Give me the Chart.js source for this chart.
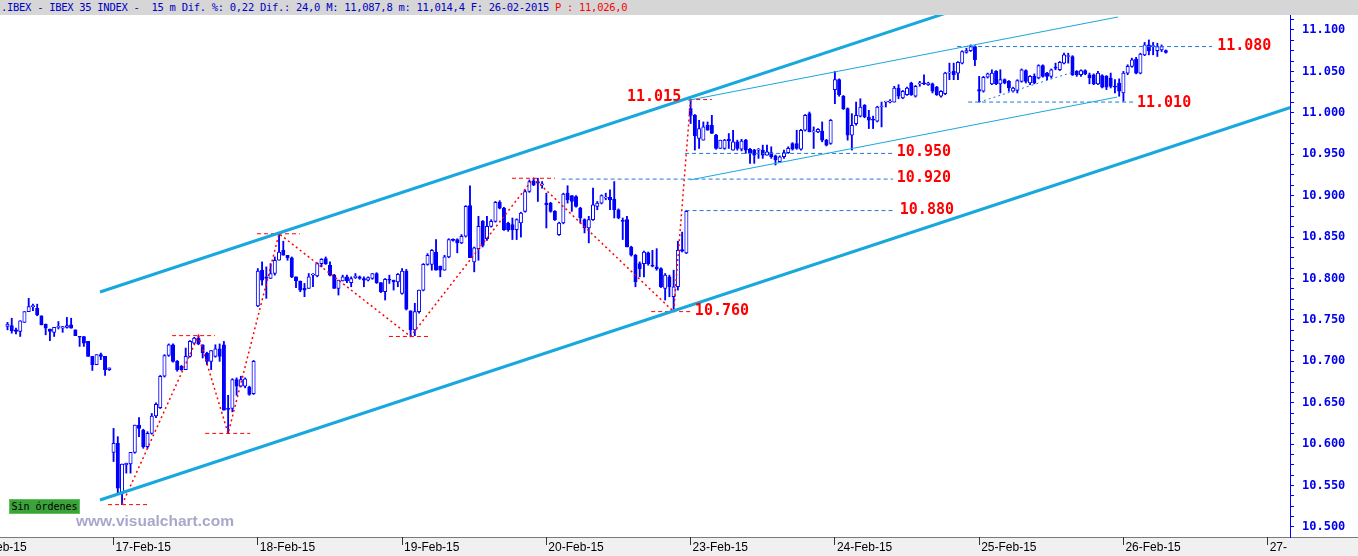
<!DOCTYPE html>
<html>
<head>
<meta charset="utf-8">
<title>IBEX 35 - 15 m</title>
<script src="https://cdn.jsdelivr.net/npm/chart.js@4.4.1/dist/chart.umd.min.js"></script>
<style>
  html,body{margin:0;padding:0;background:#fff;}
  #wrap{position:relative;width:1358px;height:556px;overflow:hidden;}
  #chart{position:absolute;left:0;top:0;}
  #hdr{position:absolute;left:0;top:0;width:1358px;height:15px;background:#d6d6d6;font:10.5px 'DejaVu Sans Mono',monospace;letter-spacing:-0.3px;line-height:15px;color:#0000c8;white-space:pre;padding-left:1px;box-sizing:border-box;}
  #hdr .p{color:#ff0000;}
  #sin{position:absolute;left:9px;top:499px;width:71px;height:15px;background:#3ca33a;border:1px solid #5cc25a;box-sizing:border-box;font:10px 'DejaVu Sans Mono',monospace;line-height:13px;text-align:center;color:#000;}
  #wm{position:absolute;left:76px;top:513px;font:bold 15.5px 'Liberation Sans',Arial,sans-serif;line-height:16px;color:#a8a8cc;}
</style>
</head>
<body>
<div id="wrap">
  <canvas id="chart" width="1358" height="556"></canvas>
  <div id="hdr">.IBEX - IBEX 35 INDEX -  15 m Dif. %: 0,22 Dif.: 24,0 M: 11,087,8 m: 11,014,4 F: 26-02-2015 <span class="p">P : 11,026,0</span></div>
  <div id="sin">Sin órdenes</div>
  <div id="wm">www.visualchart.com</div>
</div>
<script>
// 15 minute bars, 34 per session; bar index 0 = first bar of 16-Feb
const dayLabels = ['16-Feb-15','17-Feb-15','18-Feb-15','19-Feb-15','20-Feb-15','23-Feb-15','24-Feb-15','25-Feb-15','26-Feb-15','27-'];
const barsPerDay = 34;
const firstBar = 9;
const priceTicks = [10500, 10550, 10600, 10650, 10700, 10750, 10800, 10850, 10900, 10950, 11000, 11050, 11100];
const minorStep = 12.5;

const open = [
  // 16-Feb
  10742,10743,10738,10736,10747,10760,10766,10764,10755,10745,10739,10735,10741,10740,10741,10744,10738,10730,10730,10724,10706,10696,10708,10706,10690,
  // 17-Feb
  10590,10601,10540,10575,10576,10590,10623,10617,10597,10613,10634,10644,10682,10707,10720,10700,10694,10690,10706,10722,10728,10720,10710,10700,10706,10715,10720,10643,10643,10678,10670,10670,10669,10661,
  // 18-Feb
  10767,10810,10802,10800,10806,10822,10834,10828,10825,10802,10797,10788,10788,10804,10803,10818,10824,10816,10804,10788,10797,10802,10795,10801,10802,10800,10798,10800,10806,10795,10784,10799,10798,10796,
  // 19-Feb
  10782,10809,10761,10738,10760,10786,10817,10817,10832,10815,10810,10826,10847,10847,10843,10851,10888,10820,10836,10869,10848,10863,10869,10892,10885,10867,10865,10859,10867,10881,10905,10918,10917,10913,
  // 20-Feb
  10891,10891,10881,10853,10867,10903,10900,10899,10885,10871,10861,10871,10887,10891,10897,10898,10896,10883,10870,10871,10838,10828,10818,10818,10831,10816,10814,10812,10788,10802,10778,10790,10835,10831,
  // 23-Feb
  11005,10997,10969,10967,10985,10985,10973,10957,10957,10968,10955,10965,10956,10967,10956,10955,10955,10955,10949,10952,10948,10941,10947,10952,10963,10963,10956,10979,10999,10977,10977,10978,10967,10963,
  // 24-Feb
  11028,11040,11020,11005,10973,10987,10996,11009,10995,10992,10990,11007,11013,11013,11013,11030,11018,11022,11036,11020,11035,11036,11034,11035,11031,11020,11023,11048,11050,11048,11060,11073,11075,11080,
  // 25-Feb
  11028,11026,11043,11035,11050,11035,11040,11038,11026,11027,11038,11051,11036,11044,11042,11057,11048,11044,11055,11052,11060,11068,11068,11050,11046,11051,11046,11046,11035,11045,11044,11042,11032,11036,
  // 26-Feb
  11024,11048,11056,11065,11048,11070,11082,11080,11075,11076,11075
];
const high = [
  10747,10752,10740,10749,10760,10776,10769,10769,10755,10745,10739,10741,10748,10742,10753,10752,10738,10730,10730,10724,10706,10708,10710,10706,10692,
  10619,10609,10576,10577,10590,10623,10632,10618,10615,10637,10650,10683,10708,10721,10721,10701,10695,10716,10725,10729,10731,10720,10711,10713,10720,10721,10724,10659,10679,10680,10682,10680,10670,10701,
  10812,10820,10814,10818,10826,10854,10845,10828,10826,10802,10797,10794,10806,10806,10819,10824,10826,10820,10805,10798,10804,10804,10802,10806,10803,10802,10802,10806,10807,10795,10800,10804,10798,10806,
  10812,10811,10761,10770,10786,10818,10830,10835,10847,10815,10828,10848,10848,10848,10853,10888,10912,10838,10875,10870,10875,10871,10893,10894,10886,10868,10873,10872,10880,10907,10919,10921,10921,10917,
  10903,10892,10882,10868,10903,10912,10900,10900,10886,10872,10875,10909,10893,10901,10903,10907,10917,10884,10873,10875,10839,10829,10820,10833,10832,10834,10836,10813,10806,10804,10810,10845,10856,10882,
  11016,10998,10991,10989,10989,10997,10974,10967,10968,10975,10979,10967,10968,10968,10957,10956,10957,10961,10961,10959,10949,10948,10955,10959,10964,10979,10980,10998,11001,10983,10981,10989,10968,10992,
  11050,11041,11021,11006,10999,11013,11017,11010,11003,10996,11008,11013,11014,11016,11032,11034,11027,11031,11037,11033,11038,11046,11037,11036,11032,11027,11049,11060,11060,11062,11075,11078,11082,11081,
  11044,11044,11048,11052,11051,11052,11041,11039,11031,11040,11053,11052,11045,11047,11058,11058,11049,11053,11060,11062,11072,11072,11069,11051,11052,11052,11048,11047,11050,11046,11045,11048,11040,11041,
  11050,11058,11066,11067,11072,11085,11088,11085,11084,11082,11076
];
const low = [
  10738,10734,10733,10730,10747,10760,10761,10755,10744,10732,10725,10730,10739,10735,10740,10740,10731,10718,10718,10706,10689,10696,10702,10683,10689,
  10579,10541,10527,10565,10565,10589,10609,10595,10595,10612,10632,10643,10681,10706,10699,10688,10689,10690,10705,10721,10720,10704,10696,10690,10705,10700,10641,10613,10639,10659,10669,10668,10659,10660,
  10766,10792,10776,10800,10804,10822,10828,10822,10801,10789,10784,10778,10788,10790,10802,10814,10817,10803,10788,10780,10797,10795,10790,10800,10799,10790,10797,10799,10794,10783,10774,10794,10786,10790,
  10781,10762,10730,10731,10758,10785,10816,10810,10810,10802,10810,10825,10845,10831,10842,10850,10825,10808,10822,10838,10846,10862,10868,10884,10858,10857,10847,10847,10850,10880,10904,10912,10893,10909,
  10861,10880,10870,10852,10866,10891,10881,10886,10867,10855,10843,10870,10883,10890,10895,10883,10873,10872,10847,10838,10827,10790,10802,10802,10816,10814,10810,10789,10774,10778,10760,10786,10832,10830,
  10987,10955,10957,10967,10979,10975,10956,10957,10956,10957,10955,10955,10954,10951,10939,10939,10945,10945,10949,10945,10937,10940,10945,10951,10955,10956,10955,10978,10977,10957,10976,10965,10960,10962,
  11011,11020,11004,10967,10955,10985,10995,10994,10981,10981,10989,10983,11007,11012,11013,11017,11017,11021,11021,11019,11032,11034,11033,11024,11021,11019,11022,11040,11040,11040,11059,11072,11074,11057,
  11013,11025,11042,11034,11034,11024,11035,11026,11025,11024,11037,11036,11034,11035,11041,11043,11040,11042,11052,11051,11059,11060,11045,11044,11044,11046,11035,11034,11034,11030,11028,11030,11024,11020,
  11014,11046,11055,11047,11047,11069,11070,11070,11068,11074,11072
];
const close = [
  10745,10737,10736,10749,10760,10766,10767,10756,10744,10740,10736,10741,10742,10742,10743,10740,10731,10729,10722,10706,10696,10708,10706,10690,10692,
  10601,10547,10576,10577,10590,10623,10619,10597,10613,10634,10648,10682,10707,10720,10700,10690,10690,10706,10724,10728,10721,10710,10700,10713,10715,10706,10641,10642,10678,10670,10678,10679,10660,10700,
  10809,10798,10800,10806,10822,10832,10828,10825,10802,10797,10786,10786,10802,10805,10818,10823,10818,10804,10788,10798,10802,10797,10800,10803,10800,10798,10801,10806,10795,10784,10799,10798,10796,10805,
  10809,10763,10738,10760,10786,10817,10828,10834,10810,10810,10826,10847,10846,10843,10851,10887,10825,10837,10863,10840,10863,10869,10892,10885,10859,10859,10859,10871,10879,10905,10917,10913,10915,10914,
  10889,10881,10871,10867,10902,10895,10893,10887,10873,10861,10871,10889,10891,10900,10898,10895,10883,10873,10869,10838,10828,10796,10812,10832,10818,10815,10812,10790,10804,10790,10790,10834,10833,10881,
  10997,10972,10981,10983,10979,10975,10957,10967,10967,10966,10965,10957,10966,10955,10952,10949,10956,10949,10953,10947,10943,10947,10952,10957,10956,10957,10979,10997,10977,10978,10980,10967,10961,10991,
  11040,11022,11005,10973,10985,10997,11007,10995,10991,10991,11007,11008,11014,11014,11030,11020,11026,11030,11022,11032,11036,11035,11036,11026,11022,11026,11048,11049,11046,11061,11074,11075,11080,11064,
  11026,11043,11047,11048,11035,11040,11036,11030,11030,11039,11052,11038,11044,11036,11057,11044,11044,11052,11054,11061,11070,11069,11046,11046,11051,11047,11042,11035,11048,11031,11031,11032,11031,11026,
  11048,11056,11064,11048,11071,11082,11075,11081,11080,11080,11073
];

// drawn studies, points as [bar, price]
const channelTop = [[30.8, 10783.7], [240, 11137]];
const channelBottom = [[30.8, 10532.6], [315, 11012.6]];
const wedgeTop = [[169.4, 11015], [270.7, 11115.7]];
const wedgeBottom = [[169.9, 10919], [270.5, 11019]];
const riseDotted = [[238, 11013], [260, 11049]];
const zigzag = [[36, 10527], [54, 10731], [61, 10613], [73, 10854], [104, 10730], [133, 10921], [166, 10760], [170, 11016]];
// [from bar, to bar, price]
const blueLevels = [[232.8, 292.9, 11080], [235.4, 274.7, 11013], [168.7, 217.7, 10951], [139.6, 217.7, 10920], [168.8, 217.7, 10882]];
const redMarks = [[32.7, 42.1, 10527], [47.8, 57.9, 10731], [55.6, 66.2, 10613], [67.8, 77.9, 10854], [98.9, 108.6, 10730], [127.9, 138.0, 10921], [160.7, 170.6, 10760], [164.7, 175.0, 11016]];
const tagText = ['11.015', '10.950', '10.920', '10.880', '10.760', '11.080', '11.010'];
const tagAt = [155.0, 218.6, 218.6, 219.3, 171.0, 294.1, 275.2];
const tagValue = [11019, 10953, 10921, 10883, 10761, 11080, 11012];

const BLUE = '#0000ff';
const CYAN = '#19a8de';
const DASH_BLUE = '#2376d6';
const RED = '#ff0000';

function pts(list){ return list.map(p => ({x: p[0], y: p[1]})); }
function seg(l){ return pts([[l[0], l[2]], [l[1], l[2]]]); }
function line(data, color, width, dash){
  return {type:'line', data, borderColor: color, borderWidth: width, borderDash: dash || [],
    pointRadius: 0, pointHoverRadius: 0, fill: false, tension: 0, order: 0};
}

const barX = open.map((o, k) => firstBar + k);
const dayStarts = dayLabels.map((d, k) => k * barsPerDay);

const frame = {
  id: 'frame',
  beforeDraw(chart){
    const {ctx, chartArea: a, width, height} = chart;
    ctx.save();
    ctx.fillStyle = '#ffffff';
    ctx.fillRect(0, 0, width, height);
    ctx.fillStyle = '#f0f0f0';
    ctx.fillRect(0, a.bottom, width, height - a.bottom);
    ctx.fillStyle = '#7a7a7a';
    ctx.fillRect(0, a.bottom, width, 1);
    ctx.restore();
  },
  afterDatasetsDraw(chart){
    const {ctx, scales: {x, y}} = chart;
    ctx.save();
    ctx.font = 'bold 15px "DejaVu Sans Mono", monospace';
    ctx.fillStyle = RED;
    ctx.textBaseline = 'middle';
    tagText.forEach((t, k) => ctx.fillText(t, x.getPixelForValue(tagAt[k]), y.getPixelForValue(tagValue[k])));
    ctx.restore();
  }
};

new Chart(document.getElementById('chart'), {
  type: 'bar',
  data: {
    datasets: [
      {type:'bar', data: barX.map((x, k) => ({x, y: [low[k], high[k]]})),
        backgroundColor: BLUE, borderWidth: 0, barThickness: 1.2, grouped: false, order: 2},
      {type:'bar', data: barX.map((x, k) => ({x, y: [open[k], close[k]]})),
        backgroundColor: open.map((o, k) => close[k] > o ? '#ffffff' : BLUE),
        borderColor: BLUE, borderWidth: 1, borderSkipped: false, barThickness: 3.4, minBarLength: 1, grouped: false, order: 1},
      line(pts(channelTop), CYAN, 3),
      line(pts(channelBottom), CYAN, 3),
      line(pts(wedgeTop), CYAN, 1),
      line(pts(wedgeBottom), CYAN, 1),
      line(pts(riseDotted), DASH_BLUE, 1, [2, 3]),
      ...blueLevels.map(l => line(seg(l), DASH_BLUE, 1, [4, 3])),
      ...redMarks.map(l => line(seg(l), RED, 1, [4, 3])),
      line(pts(zigzag), RED, 1.5, [2, 3])
    ]
  },
  options: {
    responsive: false,
    devicePixelRatio: 1,
    animation: false,
    events: [],
    layout: {padding: {top: 15, left: 0, right: 0, bottom: 0}},
    plugins: {legend: {display: false}, tooltip: {enabled: false}},
    scales: {
      x: {
        type: 'linear', position: 'bottom', bounds: 'data', offset: false,
        min: 7.235, max: 311.26,
        afterBuildTicks: s => { s.ticks = dayStarts.map(v => ({value: v})); },
        afterFit: s => { s.height = 19; s.paddingLeft = 0; s.paddingRight = 0; },
        grid: {drawOnChartArea: false, drawTicks: true, tickLength: 8, color: '#333333', offset: false},
        border: {display: false},
        ticks: {autoSkip: false, maxRotation: 0, align: 'start', labelOffset: 2, padding: -5,
          color: '#000000', font: {family: 'Liberation Sans', size: 12},
          callback: (v, k) => dayLabels[k]}
      },
      y: {
        type: 'linear', position: 'right', bounds: 'data',
        min: 10487.9, max: 11118.1,
        afterBuildTicks: s => {
          const t = [];
          priceTicks.forEach(p => { for (let m = 0; m < 50; m += minorStep) if (p + m <= s.max) t.push({value: p + m}); });
          s.ticks = t;
        },
        afterFit: s => { s.width = 68; s.paddingTop = 0; s.paddingBottom = 0; },
        grid: {drawOnChartArea: false, drawTicks: true, tickLength: 4, color: BLUE},
        border: {display: true, color: BLUE, width: 1},
        ticks: {autoSkip: false, padding: 8,
          color: '#0000ee', font: {family: 'DejaVu Sans Mono', size: 12, weight: 'bold'},
          callback: v => (priceTicks.includes(v) ? (v / 1000).toFixed(3) : '')}
      }
    }
  },
  plugins: [frame]
});
</script>
</body>
</html>
